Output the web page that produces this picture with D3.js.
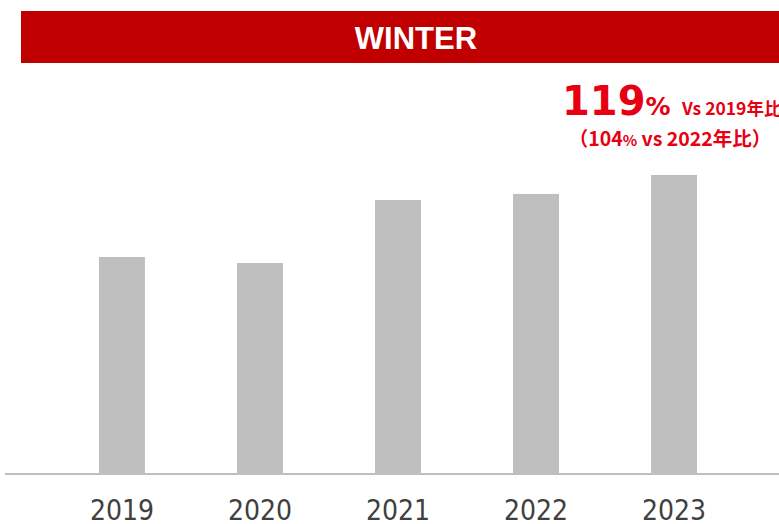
<!DOCTYPE html>
<html>
<head>
<meta charset="utf-8">
<script src="https://cdn.jsdelivr.net/npm/d3@7"></script>
<style>
  html, body { margin: 0; padding: 0; background: #fff; }
  svg { display: block; }
</style>
</head>
<body>
<div id="chart"></div>
<script>
// Data (relative index, 2019 = 100)
const years = ["2019", "2020", "2021", "2022", "2023"];
const values = [100, 98.6, 113.2, 114.6, 119];
const title = "WINTER";
const noteMain = "119";
const notePct = "%";
const noteSub = "Vs 2019年比";
const noteLine2 = ["（104", "%", " vs 2022年比）"];

const width = 779;
const height = 524;
const baseY = 473;

const svg = d3.select("#chart")
    .append("svg")
    .attr("width", width)
    .attr("height", height);

// Title banner
svg.append("rect")
    .attr("x", 21)
    .attr("y", 11)
    .attr("width", width - 21)
    .attr("height", 52)
    .attr("fill", "#C00000");

svg.append("text")
    .attr("x", 416)
    .attr("y", 49)
    .attr("text-anchor", "middle")
    .attr("fill", "#fff")
    .style("font-family", "'Liberation Sans', Arial, sans-serif")
    .style("font-weight", "bold")
    .style("font-size", "31px")
    .text(title);

// Scales
const x = d3.scaleBand()
    .domain(years)
    .range([53, 743])
    .paddingInner(0.667)
    .paddingOuter(0.333);

const y = d3.scaleLinear()
    .domain([50, 150])
    .range([baseY, baseY - 432]);

// Bars
svg.selectAll(".bar")
    .data(values)
    .enter()
    .append("rect")
    .attr("class", "bar")
    .attr("x", (d, i) => x(years[i]))
    .attr("y", d => y(d))
    .attr("width", x.bandwidth())
    .attr("height", d => baseY - y(d))
    .attr("fill", "#BFBFBF");

// Axis line
svg.append("line")
    .attr("x1", 5)
    .attr("x2", width)
    .attr("y1", baseY + 1)
    .attr("y2", baseY + 1)
    .attr("stroke", "#BFBFBF")
    .attr("stroke-width", 2);

// Year labels
svg.selectAll(".year")
    .data(years)
    .enter()
    .append("text")
    .attr("class", "year")
    .attr("x", d => x(d) + x.bandwidth() / 2)
    .attr("y", 520)
    .attr("text-anchor", "middle")
    .attr("fill", "#404040")
    .style("font-family", "'DejaVu Sans Condensed', 'DejaVu Sans', sans-serif")
    .style("font-stretch", "condensed")
    .style("font-size", "28px")
    .text(d => d);

// Annotation
const note = svg.append("text")
    .attr("x", 562)
    .attr("y", 115)
    .attr("fill", "#E60012")
    .style("font-family", "'DejaVu Sans', sans-serif")
    .style("font-weight", "bold");
note.append("tspan").style("font-size", "40px").text(noteMain);
note.append("tspan").style("font-size", "25px").text(notePct);

svg.append("text")
    .attr("x", 682)
    .attr("y", 115)
    .attr("fill", "#E60012")
    .style("font-family", "'Noto Sans CJK JP', sans-serif")
    .style("font-weight", "bold")
    .style("font-size", "17.5px")
    .text(noteSub);

const note2 = svg.append("text")
    .attr("x", 670)
    .attr("y", 146)
    .attr("text-anchor", "middle")
    .attr("fill", "#E60012")
    .style("font-family", "'Noto Sans CJK JP', sans-serif")
    .style("font-weight", "bold")
    .style("font-size", "19.5px");
note2.append("tspan").text(noteLine2[0]);
note2.append("tspan").style("font-size", "15px").text(noteLine2[1]);
note2.append("tspan").text(noteLine2[2]);
</script>
</body>
</html>
